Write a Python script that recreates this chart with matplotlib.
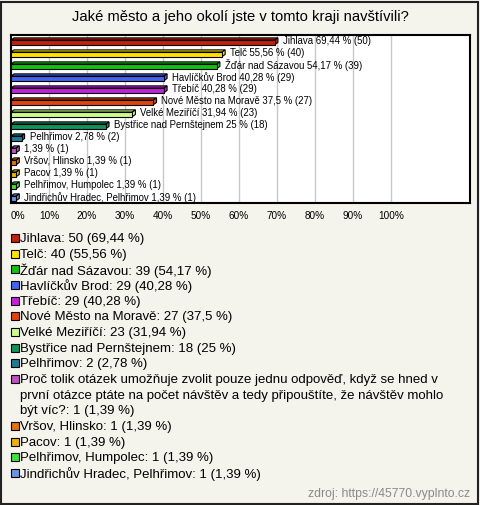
import matplotlib
matplotlib.use("Agg")
import matplotlib.pyplot as plt
from matplotlib.patches import Polygon, Rectangle

plt.rcParams['font.family'] = ['Liberation Sans', 'DejaVu Sans']

title = "Jaké město a jeho okolí jste v tomto kraji navštívili?"
categories = [
    "Jihlava",
    "Telč",
    "Žďár nad Sázavou",
    "Havlíčkův Brod",
    "Třebíč",
    "Nové Město na Moravě",
    "Velké Meziříčí",
    "Bystřice nad Pernštejnem",
    "Pelhřimov",
    "Proč tolik otázek umožňuje zvolit pouze jednu odpověď, když se hned v\n"
    "první otázce ptáte na počet návštěv a tedy připouštíte, že návštěv mohlo\n"
    "být víc?",
    "Vršov, Hlinsko",
    "Pacov",
    "Pelhřimov, Humpolec",
    "Jindřichův Hradec, Pelhřimov",
]
counts = [50, 40, 39, 29, 29, 27, 23, 18, 2, 1, 1, 1, 1, 1]
total = 72
colors = ["#c41f0c", "#ffe100", "#14c014", "#4463f0", "#c31fdc", "#e2420f",
          "#ccff88", "#13925a", "#1f7b94", "#c150c3", "#e0720f", "#e8b208",
          "#3fe23a", "#6b95e3"]
xticks = [0, 10, 20, 30, 40, 50, 60, 70, 80, 90, 100]
source = "zdroj: https://45770.vyplnto.cz"


def fmt(v):
    s = f"{v:.2f}".rstrip("0").rstrip(".")
    return s.replace(".", ",")


pcts = [c / total * 100 for c in counts]

fig = plt.figure(figsize=(4.8, 5.05), dpi=100, facecolor="#f4f3ec")
fig.patches.append(Rectangle((0.002, 0.002), 0.994, 0.994, transform=fig.transFigure,
                             fill=False, edgecolor="#222222", linewidth=1.5))

ax = fig.add_axes([11 / 480, 1 - 203 / 505, 459 / 480, 168 / 505])
ax.set_facecolor("white")
n = len(categories)
ax.set_xlim(0, 120.8)
ax.set_ylim(n - 0.5, -0.5)
ax.set_xticks(xticks)
ax.set_xticklabels([f"{t}%" for t in xticks], fontsize=7.2)
ax.get_xticklabels()[0].set_ha("left")
ax.set_yticks([])
ax.tick_params(axis="x", length=0, pad=6)
ax.grid(axis="x", color="#c8c8c8", linewidth=1)
ax.set_axisbelow(True)
for sp in ax.spines.values():
    sp.set_linewidth(1.5)
    sp.set_color("black")

# 3D-ish bars
d = 0.8     # depth in x units
dy = 0.18   # depth in y units
for i, (p, col) in enumerate(zip(pcts, colors)):
    top, bot = i - 0.08, i + 0.3
    ax.add_patch(Polygon([(0, top), (p, top), (p + d, top - dy), (d, top - dy)],
                         closed=True, facecolor=col, edgecolor="black", linewidth=0.8, zorder=3))
    ax.add_patch(Polygon([(p, top), (p + d, top - dy), (p + d, bot - dy), (p, bot)],
                         closed=True, facecolor=col, edgecolor="black", linewidth=0.8, zorder=3))
    ax.barh(i + 0.11, p, height=0.38, color=col, edgecolor="black", linewidth=0.8, zorder=4)
    name = categories[i] if "\n" not in categories[i] else ""
    lbl = f"{name} {fmt(p)} % ({counts[i]})".strip()
    ax.text(p + d + 1.3, i + 0.02, lbl, fontsize=6.9, va="center", ha="left", zorder=5)

fig.text(0.5, 1 - 17 / 505, title, ha="center", va="center", fontsize=10.6)

# legend
y = 238
step = 15.67
for name, c, p, col in zip(categories, counts, pcts, colors):
    fig.patches.append(Rectangle((10.5 / 480, 1 - (y + 4) / 505), 8 / 480, 8 / 505,
                                 transform=fig.transFigure, facecolor=col,
                                 edgecolor="black", linewidth=0.8))
    lines = f"{name}: {c} ({fmt(p)} %)".split("\n")
    for k, line in enumerate(lines):
        fig.text(20 / 480, 1 - (y + 1) / 505, line, fontsize=9.5, ha="left", va="center")
        y += step

fig.text(470 / 480, 1 - 494 / 505, source, ha="right", va="center", fontsize=8.8, color="#8a8a8a")

fig.savefig("out.png", dpi=100, facecolor=fig.get_facecolor())
